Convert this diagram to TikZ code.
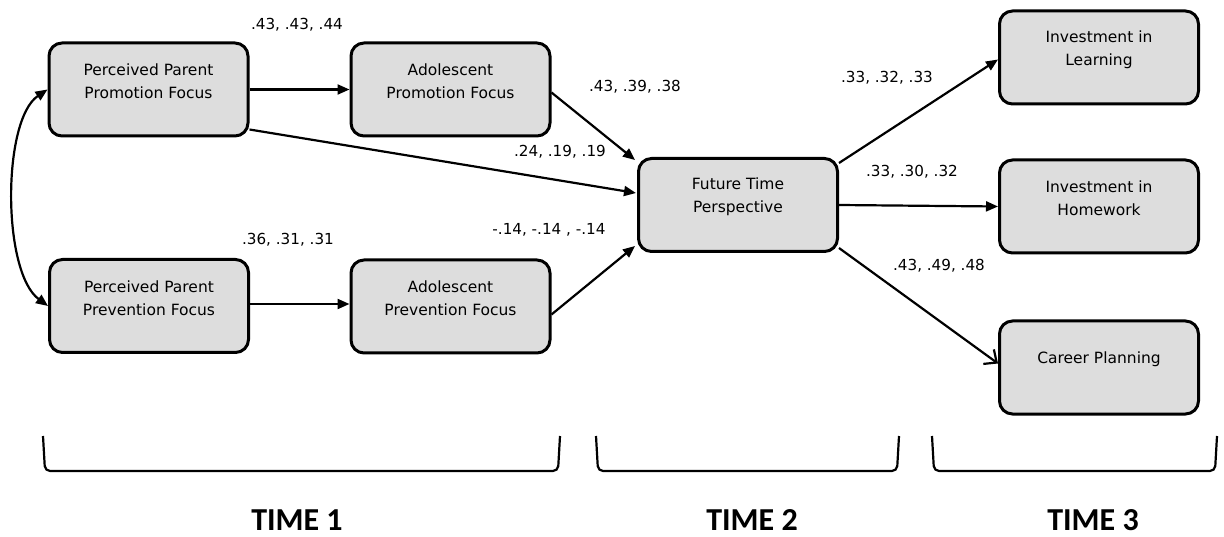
\documentclass[tikz,border=0pt]{standalone}
\usepackage{fontspec}
\setmainfont{DejaVu Sans}
\newfontfamily\timefont{Carlito}
\usetikzlibrary{arrows.meta,calc}
\definecolor{boxgray}{RGB}{221,221,221}
\begin{document}
\begin{tikzpicture}[x=1pt,y=-1pt,
  box/.style={draw, line width=3pt, rounded corners=13pt, fill=boxgray,
    minimum width=199pt, minimum height=93pt, inner sep=0pt},
  boxtext/.style={align=center, font=\fontsize{15.5}{23}\selectfont, yshift=8pt},
  lbl/.style={font=\fontsize{15.2}{18}\selectfont, inner sep=0pt},
  conn/.style={line width=2.2pt, -{Triangle[length=12pt,width=10pt]}},
  openconn/.style={line width=2.2pt, -{Straight Barb[length=10pt,width=18pt,line width=2.2pt]}},
  brk/.style={line width=2.2pt, rounded corners=5pt},
  timelbl/.style={font=\timefont\bfseries\fontsize{32}{36}\selectfont, anchor=base, inner sep=0pt}
]
\useasboundingbox (0,0) rectangle (1224,537);

% boxes
\node[box, label={[boxtext]center:Perceived Parent\\Promotion Focus}] (ppp) at (148.5,89.5) {};
\node[box, label={[boxtext]center:Adolescent\\Promotion Focus}] (ap) at (450.5,89.5) {};
\node[box, label={[boxtext]center:Perceived Parent\\Prevention Focus}] (ppv) at (149,306) {};
\node[box, label={[boxtext]center:Adolescent\\Prevention Focus}] (apv) at (450.5,306.5) {};
\node[box, label={[boxtext]center:Future Time\\Perspective}] (ftp) at (738,205) {};
\node[box, label={[boxtext]center:Investment in\\Learning}] (il) at (1099,57.5) {};
\node[box, label={[boxtext]center:Investment in\\Homework}] (ih) at (1099,206.5) {};
\node[box, label={[boxtext]center:Career Planning}] (cp) at (1099,367.5) {};

% connectors
\draw[conn] (ppp.east) -- (ap.west);
\draw[conn] ($(ppv.east)+(0,-2)$) -- ($(apv.west)+(0,-2.5)$);
\draw[conn] ($(ppp.east)+(0,40)$) -- ($(ftp.west)+(-1,-12)$);
\draw[conn] ($(ap.east)+(0,3)$) -- ($(ftp.north west)+(-2,3)$);
\draw[conn] ($(apv.east)+(0,8)$) -- ($(ftp.south west)+(-2,-7)$);
\draw[conn] ($(ftp.north east)+(0,6)$) -- ($(il.west)+(0,2)$);
\draw[conn] (ftp.east) -- (ih.west);
\draw[openconn] ($(ftp.south east)+(0,-5)$) -- ($(cp.west)+(0,-4)$);
\draw[line width=2.2pt, {Triangle[length=12pt,width=10pt]}-{Triangle[length=12pt,width=10pt]}]
  (ppp.west) .. controls (2,120) and (2,272) .. (ppv.west);

% coefficient labels
\node[lbl] (l1) at (297,25) {.43, .43, .44};
\node[lbl] (l2) at (635,87) {.43, .39, .38};
\node[lbl] (l3) at (560,152) {.24, .19, .19};
\node[lbl] (l4) at (549,230) {-.14, -.14 , -.14};
\node[lbl] (l5) at (288,240) {.36, .31, .31};
\node[lbl] (l6) at (887,78) {.33, .32, .33};
\node[lbl] (l7) at (912,172) {.33, .30, .32};
\node[lbl] (l8) at (939,266) {.43, .49, .48};

% brackets
\draw[brk] (43,436) -- (45,471) -- (558,471) -- (560,436);
\draw[brk] (596,436) -- (598,471) -- (897,471) -- (899,436);
\draw[brk] (932,436) -- (934,471) -- (1215,471) -- (1217,436);

% time labels
\node[timelbl] (t1) at (297,530) {TIME 1};
\node[timelbl] (t2) at (752,530) {TIME 2};
\node[timelbl] (t3) at (1093,530) {TIME 3};
\end{tikzpicture}
\end{document}
